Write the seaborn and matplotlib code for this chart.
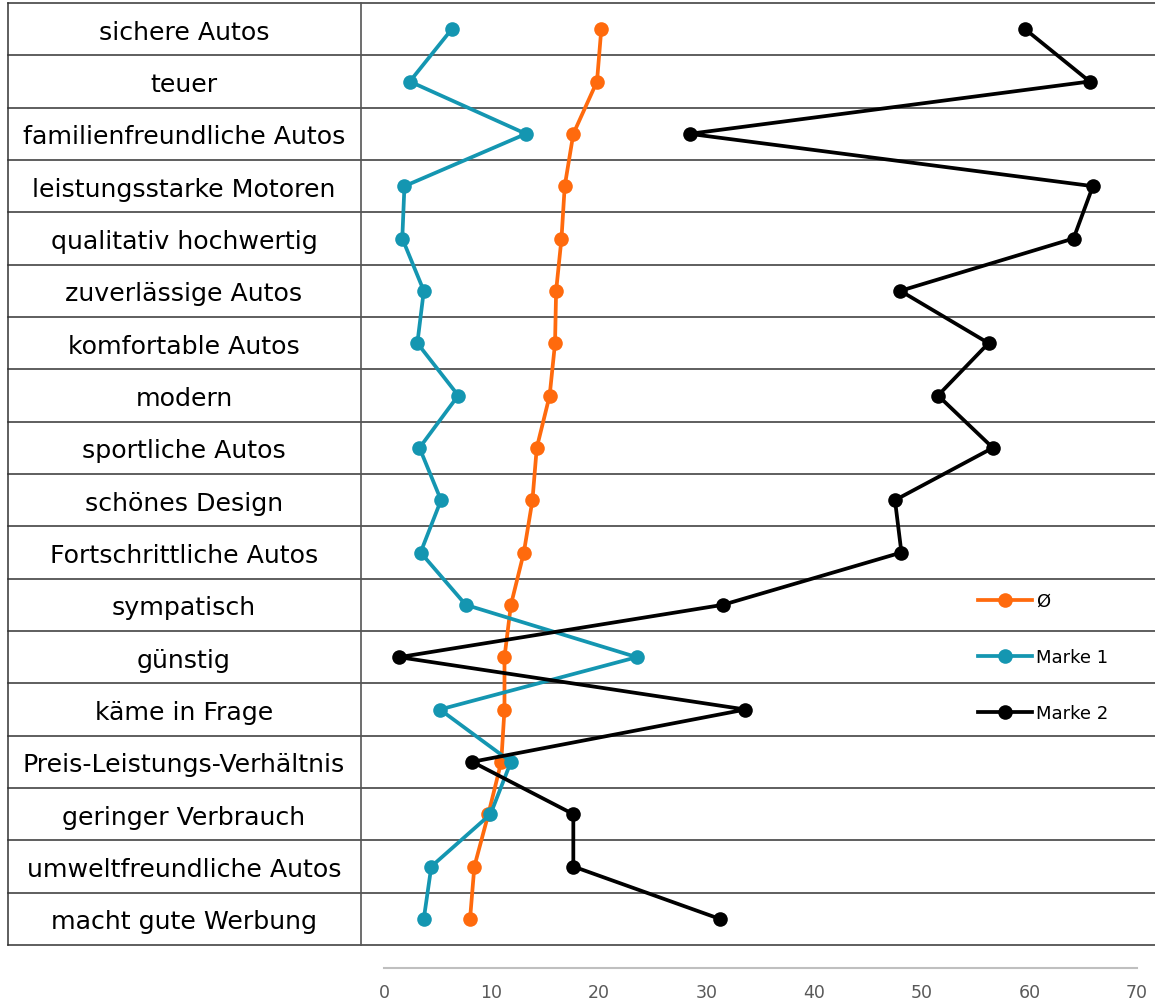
import pandas as pd
import numpy as np
import matplotlib.pyplot as plt
import seaborn as sns

# Kategorien (von oben nach unten)
kategorien = ["sichere Autos", "teuer", "familienfreundliche Autos",
              "leistungsstarke Motoren", "qualitativ hochwertig", "zuverlässige Autos",
              "komfortable Autos", "modern", "sportliche Autos", "schönes Design",
              "Fortschrittliche Autos", "sympatisch", "günstig", "käme in Frage",
              "Preis-Leistungs-Verhältnis", "geringer Verbrauch",
              "umweltfreundliche Autos", "macht gute Werbung"]

durchschnitt = [20.2, 19.8, 17.6, 16.8, 16.5, 16.0, 15.9, 15.4, 14.2, 13.8,
                13.0, 11.8, 11.2, 11.2, 10.9, 9.7, 8.4, 8.0]
marke_1 = [6.3, 2.4, 13.2, 1.9, 1.7, 3.7, 3.1, 6.9, 3.3, 5.3,
           3.4, 7.6, 23.5, 5.2, 11.8, 9.9, 4.4, 3.7]
marke_2 = [59.6, 65.6, 28.4, 65.9, 64.1, 48.0, 56.2, 51.5, 56.6, 47.5,
           48.1, 31.5, 1.4, 33.6, 8.2, 17.6, 17.6, 31.2]

serien = ["Ø", "Marke 1", "Marke 2"]
farben = ["#ff6a0d", "#1496b1", "#000000"]
x_ticks = [0, 10, 20, 30, 40, 50, 60, 70]

df = pd.DataFrame({
    "pos": list(range(len(kategorien))) * 3,
    "wert": durchschnitt + marke_1 + marke_2,
    "serie": sum([[s] * len(kategorien) for s in serien], []),
})

W, H = 1155, 1004
fig = plt.figure(figsize=(W / 100, H / 100), dpi=100)

# Hauptbereich (rechts neben der Beschriftungsspalte)
x0, x1 = 361, 1155
y_top, y_bot = 4, 946
ax = fig.add_axes([x0 / W, 1 - y_bot / H, (x1 - x0) / W, (y_bot - y_top) / H])
px_per_unit = (1137 - 384) / 70
ax.set_xlim(-(384 - x0) / px_per_unit, 70 + (x1 - 1137) / px_per_unit)
ax.set_ylim(len(kategorien) - 0.5, -0.5)

sns.lineplot(data=df, x="wert", y="pos", hue="serie", hue_order=serien,
             palette=farben, orient="y", sort=False, marker="o",
             markersize=10.5, markeredgewidth=0, linewidth=2.7, ax=ax, legend=False)

for s in ["top", "right", "bottom"]:
    ax.spines[s].set_visible(False)
ax.spines["left"].set_color("#555555")
ax.spines["left"].set_linewidth(1.2)
ax.set_xticks([])
ax.set_yticks([])
ax.set_xlabel("")
ax.set_ylabel("")

# Tabellenlinien und Beschriftungen
links = (8 - x0) / (x1 - x0)
trans = ax.get_yaxis_transform()
for i in range(len(kategorien) + 1):
    ax.plot([links, 1], [i - 0.5, i - 0.5], transform=trans, color="#333333",
            lw=1.1, clip_on=False, zorder=0)
ax.plot([links, links], [-0.5, len(kategorien) - 0.5], transform=trans,
        color="#333333", lw=1.1, clip_on=False, zorder=0)
mitte = (184 - x0) / (x1 - x0)
for i, k in enumerate(kategorien):
    ax.text(mitte, i + 0.05, k, transform=trans, ha="center", va="center",
            fontsize=18.2, color="black")

# Legende
handles = [plt.Line2D([0], [0], color=c, lw=2.7, marker="o", markersize=10.5,
                      markeredgewidth=0) for c in farben]
ax.legend(handles, serien, loc="upper left", frameon=False,
          bbox_to_anchor=(978 / W, 1 - 593 / H), bbox_transform=fig.transFigure,
          borderpad=0, borderaxespad=0, handlelength=3.0, handletextpad=0.2,
          labelspacing=2.1, fontsize=13)

# separate x-Achse unten
ax2 = fig.add_axes([384 / W, 1 - 969 / H, (1137 - 384) / W, 0.001])
ax2.set_xlim(0, 70)
ax2.set_xticks(x_ticks)
ax2.set_xticklabels([str(t) for t in x_ticks], color="#595959", fontsize=12.5)
ax2.tick_params(axis="x", length=0, pad=11)
ax2.set_yticks([])
for s in ["top", "right", "left"]:
    ax2.spines[s].set_visible(False)
ax2.spines["bottom"].set_color("#bfbfbf")
ax2.spines["bottom"].set_linewidth(1.5)
ax2.patch.set_visible(False)

fig.savefig("out.png", dpi=100)
